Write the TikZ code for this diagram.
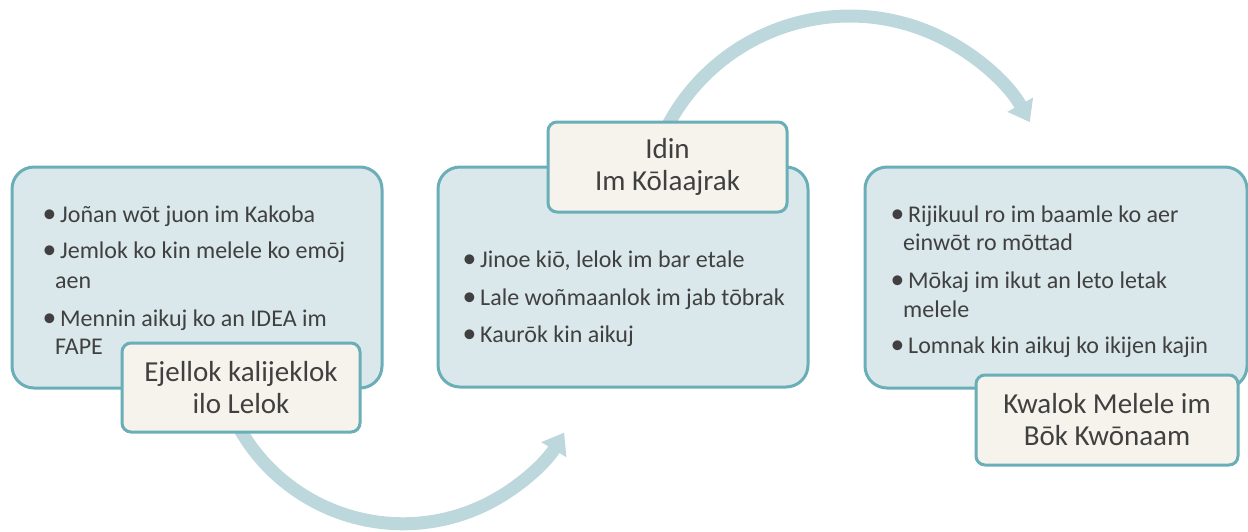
\documentclass[tikz,border=0pt]{standalone}
\usepackage{fontspec}
\setmainfont{Carlito}
\usetikzlibrary{arrows.meta}

\newlength{\du}
\setlength{\du}{1pt}

\definecolor{boxfill}{HTML}{DAE7EB}
\definecolor{boxline}{HTML}{6AAEB8}
\definecolor{tagfill}{HTML}{F5F3EC}
\definecolor{arrowcol}{HTML}{BDD8DD}
\definecolor{textcol}{HTML}{404040}

\newcommand{\bl}{\makebox[15\du][l]{\hspace{-2.5\du}\raisebox{-0.3\du}{\scalebox{1.15}{\textbullet}}}}

\tikzset{
  listbox/.style={draw=boxline, fill=boxfill, line width=3\du, rounded corners=22\du, inner sep=0pt},
  tagbox/.style={draw=boxline, fill=tagfill, line width=3\du, rounded corners=9\du, inner sep=2\du,
    align=center, text=textcol, font=\fontsize{29\du}{32\du}\selectfont},
  itemline/.style={anchor=base west, inner sep=0pt, text=textcol, font=\fontsize{24\du}{29\du}\selectfont},
  flowarrow/.style={draw=arrowcol, line width=13\du, -{Triangle[width=28pt,length=20pt]}}
}

\begin{document}
\begin{tikzpicture}
\pgftransformyscale{-1.000000}
\useasboundingbox (0\du,0\du) rectangle (1248\du,531\du);

% arrows (behind the boxes)
\coordinate (a1s) at (237\du,424\du);
\draw[flowarrow] (a1s) arc[start angle=152, end angle=31, radius=188pt];
\coordinate (a2s) at (663\du,135\du);
\draw[flowarrow] (a2s) arc[start angle=205, end angle=331, radius=206pt];

% boxes
\node[listbox, minimum width=370\du, minimum height=221\du] (box1) at (197\du,277.5\du) {};
\node[listbox, minimum width=370\du, minimum height=220\du] (box2) at (623\du,277\du) {};
\node[listbox, minimum width=382\du, minimum height=221\du] (box3) at (1056\du,277.5\du) {};

% box 1
\node[itemline] (t1a) at (45\du,222\du) {\bl Jo\~{n}an w\=ot juon im Kakoba};
\node[itemline] (t1b) at (45\du,258\du) {\bl Jemlok ko kin melele ko em\=oj};
\node[itemline] (t1c) at (55\du,288\du) {aen};
\node[itemline] (t1d) at (45\du,326\du) {\bl Mennin aikuj ko an IDEA im};
\node[itemline] (t1e) at (55\du,354\du) {FAPE};

% box 2
\node[itemline] (t2a) at (465\du,267\du) {\bl Jinoe ki\=o, lelok im bar etale};
\node[itemline] (t2b) at (465\du,305\du) {\bl Lale wo\~{n}maanlok im jab t\=obrak};
\node[itemline] (t2c) at (465\du,342\du) {\bl Kaur\=ok kin aikuj};

% box 3
\node[itemline] (t3a) at (893\du,222\du) {\bl Rijikuul ro im baamle ko aer};
\node[itemline] (t3b) at (903\du,250\du) {einw\=ot ro m\=ottad};
\node[itemline] (t3c) at (893\du,288\du) {\bl M\=okaj im ikut an leto letak};
\node[itemline] (t3d) at (903\du,317\du) {melele};
\node[itemline] (t3e) at (893\du,353\du) {\bl Lomnak kin aikuj ko ikijen kajin};

% labels
\node[tagbox, minimum width=238\du, minimum height=89\du] (tag1) at (241\du,387.5\du) {Ejellok kalijeklok\\ilo Lelok};
\node[tagbox, minimum width=239\du, minimum height=90\du] (tag2) at (667.5\du,167\du) {Idin\\Im K\=olaajrak};
\node[tagbox, minimum width=262\du, minimum height=90\du] (tag3) at (1107\du,420\du) {Kwalok Melele im\\B\=ok Kw\=onaam};
\end{tikzpicture}
\end{document}
